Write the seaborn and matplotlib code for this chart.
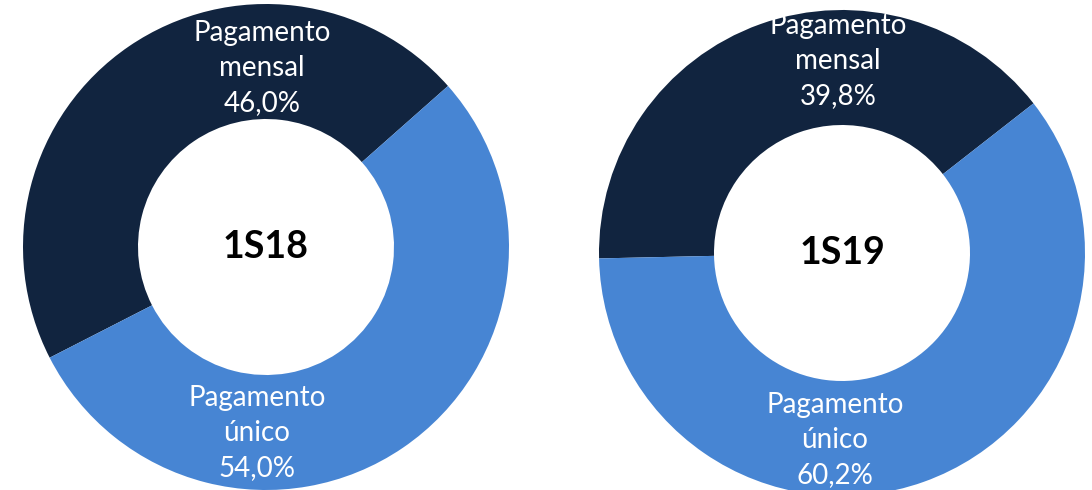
import matplotlib
matplotlib.use('Agg')
import matplotlib.pyplot as plt
import seaborn as sns

# chart data
periods = ['1S18', '1S19']
categories = ['Pagamento mensal', 'Pagamento único']
label_lines = ['Pagamento\nmensal', 'Pagamento\núnico']
shares = {'1S18': [46.0, 54.0], '1S19': [39.8, 60.2]}
start_angles = {'1S18': 41.5, '1S19': 38.0}
colors = ['#11243F', '#4785D3']

sns.set_theme(style='white')
plt.rcParams['font.family'] = ['Lato', 'DejaVu Sans']

W, H = 1092, 490
fig = plt.figure(figsize=(W / 100, H / 100), dpi=100)
ax = fig.add_axes([0, 0, 1, 1])

# layout in pixel coordinates (y from top)
centers = {'1S18': (266, 247), '1S19': (842, 253)}
radius = 243
hole = 128
label_pos = {
    '1S18': [(262, 68), (257, 433)],
    '1S19': [(838, 61), (835, 440)],
}

for p in periods:
    cx, cy = centers[p]
    ax.pie(shares[p], colors=colors, startangle=start_angles[p],
           counterclock=True, center=(cx, H - cy), radius=radius,
           wedgeprops=dict(width=radius - hole, edgecolor='none'))
    ax.text(cx, H - cy, p, ha='center', va='center', fontsize=27,
            fontweight='bold', color='black')
    for (lx, ly), txt, val in zip(label_pos[p], label_lines, shares[p]):
        s = txt + '\n' + f'{val:.1f}'.replace('.', ',') + '%'
        ax.text(lx, H - ly, s, ha='center', va='center', fontsize=20,
                color='white', linespacing=1.42)

ax.set_xlim(0, W)
ax.set_ylim(0, H)
ax.set_aspect('equal')
ax.axis('off')

fig.savefig('out.png', dpi=100)
